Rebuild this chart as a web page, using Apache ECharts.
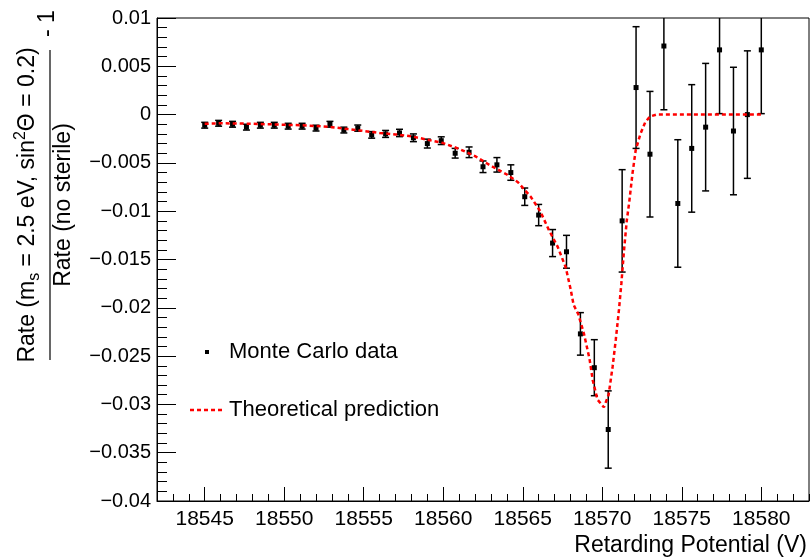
<!DOCTYPE html>
<html>
<head>
<meta charset="utf-8">
<script src="https://cdn.jsdelivr.net/npm/echarts@6/dist/echarts.min.js"></script>
<style>
  html, body { margin: 0; padding: 0; background: #fff; }
  #chart { width: 810px; height: 560px; }
</style>
</head>
<body>
<div id="chart"></div>
<script>
// Monte Carlo points (retarding potential in V)
var voltage = [18545, 18545.875, 18546.75, 18547.625, 18548.5, 18549.375, 18550.25, 18551.125,
  18552, 18552.875, 18553.75, 18554.625, 18555.5, 18556.375, 18557.25, 18558.125, 18559,
  18559.875, 18560.75, 18561.625, 18562.5, 18563.375, 18564.25, 18565.125, 18566, 18566.875,
  18567.75, 18568.625, 18569.5, 18570.375, 18571.25, 18572.125, 18573, 18573.875, 18574.75,
  18575.625, 18576.5, 18577.375, 18578.25, 18579.125, 18580];
var mcRatio = [-0.0011, -0.0009, -0.0010, -0.0013, -0.0011, -0.0011, -0.0012, -0.0012,
  -0.0014, -0.0010, -0.0016, -0.0014, -0.0021, -0.0020, -0.0019, -0.0024, -0.0030,
  -0.0027, -0.0040, -0.0039, -0.0054, -0.0052, -0.0060, -0.0085, -0.0104, -0.0133,
  -0.0142, -0.0227, -0.0262, -0.0326, -0.0110, 0.0028, -0.0041, 0.0071, -0.0092,
  -0.0035, -0.0013, 0.0067, -0.0017, 0.0000, 0.0067];
var mcError = [0.0003, 0.0003, 0.0003, 0.0003, 0.0003, 0.0003, 0.0003, 0.0003,
  0.0003, 0.0003, 0.0003, 0.00032, 0.00034, 0.00036, 0.00038, 0.0004, 0.00046,
  0.0004, 0.0005, 0.00055, 0.0006, 0.00075, 0.0008, 0.0009, 0.0011, 0.0014,
  0.0017, 0.0022, 0.0029, 0.0040, 0.0053, 0.0063, 0.0065, 0.0066, 0.0066,
  0.0066, 0.0066, 0.0066, 0.0066, 0.0066, 0.0066];

// theoretical prediction
var theoryV = [18545, 18546, 18547, 18548, 18549, 18550, 18551, 18552, 18553, 18554, 18555,
  18556, 18557, 18558, 18559, 18560, 18561, 18562, 18563, 18564, 18564.7, 18565.5, 18566.1,
  18566.6, 18567.2, 18567.7, 18568, 18568.2, 18568.5, 18568.85, 18569.2, 18569.4, 18569.7,
  18570.1, 18570.4, 18570.65, 18570.85, 18571.05, 18571.2, 18571.37, 18571.54, 18571.7,
  18571.9, 18572.1, 18572.4, 18572.7, 18573, 18573.4, 18580];
var theoryRatio = [-0.00095, -0.0009, -0.00092, -0.00095, -0.001, -0.00105, -0.0011, -0.00118,
  -0.0013, -0.0015, -0.0017, -0.0019, -0.00205, -0.00225, -0.0026, -0.00295, -0.00355,
  -0.0043, -0.0053, -0.0062, -0.007, -0.0085, -0.01, -0.0118, -0.0137, -0.0158, -0.018,
  -0.0197, -0.0207, -0.0227, -0.0253, -0.0275, -0.0295, -0.0303, -0.029, -0.0261, -0.0233,
  -0.0202, -0.0175, -0.014, -0.011, -0.009, -0.0061, -0.0037, -0.002, -0.0008, -0.0002,
  0, 0];

var majorX = [18545, 18550, 18555, 18560, 18565, 18570, 18575, 18580];
var minorX = [18542, 18543, 18544, 18546, 18547, 18548, 18549, 18551, 18552, 18553, 18554,
  18556, 18557, 18558, 18559, 18561, 18562, 18563, 18564, 18566, 18567, 18568, 18569,
  18571, 18572, 18573, 18574, 18576, 18577, 18578, 18579, 18581, 18582, 18583];

var FONT = '"Liberation Sans", Arial, Helvetica, sans-serif';

var mcData = voltage.map(function (v, i) { return [v, mcRatio[i], mcError[i]]; });
var theoryData = theoryV.map(function (v, i) { return [v, theoryRatio[i]]; });

function renderErr(params, api) {
  var x = api.value(0), y = api.value(1), e = api.value(2);
  var c = api.coord([x, y]);
  var hi = api.coord([x, y + e]);
  var lo = api.coord([x, y - e]);
  var cap = 3.5;
  var st = { stroke: '#000', lineWidth: 1.5 };
  return {
    type: 'group',
    children: [
      { type: 'line', shape: { x1: c[0], y1: hi[1], x2: c[0], y2: lo[1] }, style: st },
      { type: 'line', shape: { x1: c[0] - cap, y1: hi[1], x2: c[0] + cap, y2: hi[1] }, style: st },
      { type: 'line', shape: { x1: c[0] - cap, y1: lo[1], x2: c[0] + cap, y2: lo[1] }, style: st },
      { type: 'rect', shape: { x: c[0] - 2.5, y: c[1] - 2.5, width: 5, height: 5 }, style: { fill: '#000' } }
    ]
  };
}

// y axis title: fraction built from pieces, measured with a canvas
var meas = document.createElement('canvas').getContext('2d');
function tw(t, size) {
  meas.font = size + 'px ' + FONT;
  return meas.measureText(t).width;
}
var TF = 23;
function piece(t, x, base, size) {
  return {
    type: 'text', x: x, y: base + 0.21 * size,
    style: { text: t, font: size + 'px ' + FONT, fill: '#000', verticalAlign: 'bottom' }
  };
}
var numParts = [['Rate (m', TF, 0], ['s', 16, 5], [' = 2.5 eV, sin', TF, 0], ['2', 16, -9], ['\u0398 = 0.2)', TF, 0]];
var numW = 0;
numParts.forEach(function (p) { numW += tw(p[0], p[1]); });
var barLen = 310;
var titleChildren = [];
var px = (barLen - numW) / 2;
numParts.forEach(function (p) {
  titleChildren.push(piece(p[0], px, -16 + p[2], p[1]));
  px += tw(p[0], p[1]);
});
var den = 'Rate (no sterile)';
titleChildren.push(piece(den, (barLen - tw(den, TF)) / 2, 20, TF));
titleChildren.push({ type: 'line', shape: { x1: 0, y1: 0, x2: barLen, y2: 0 }, style: { stroke: '#000', lineWidth: 1.2 } });
titleChildren.push({
  type: 'text', x: barLen + 13, y: -2,
  style: { text: '- 1', font: TF + 'px ' + FONT, fill: '#000', verticalAlign: 'middle' }
});

var chart = echarts.init(document.getElementById('chart'));
chart.setOption({
  animation: false,
  backgroundColor: '#fff',
  grid: {
    left: 157, right: 1, top: 18, bottom: 59,
    show: true, borderColor: '#000', borderWidth: 1, backgroundColor: 'transparent'
  },
  xAxis: [{
    type: 'value', min: 18542, max: 18583,
    axisLine: { onZero: false, lineStyle: { color: '#000', width: 1 } },
    axisTick: { inside: true, length: 14, customValues: majorX, lineStyle: { color: '#000' } },
    axisLabel: {
      customValues: majorX, color: '#000', fontSize: 21, fontFamily: FONT, margin: 8,
      formatter: function (v) { return String(v); }
    },
    splitLine: { show: false }
  }, {
    type: 'value', min: 18542, max: 18583, position: 'bottom',
    axisLine: { show: false, onZero: false },
    axisTick: { inside: true, length: 7, customValues: minorX, lineStyle: { color: '#000' } },
    axisLabel: { show: false },
    splitLine: { show: false }
  }],
  yAxis: {
    type: 'value', min: -0.04, max: 0.01, interval: 0.005,
    axisLine: { show: true, onZero: false, lineStyle: { color: '#000', width: 1 } },
    axisTick: { inside: true, length: 19, lineStyle: { color: '#000' } },
    minorTick: { show: true, splitNumber: 5, length: 10, lineStyle: { color: '#000' } },
    axisLabel: {
      color: '#000', fontSize: 20, fontFamily: FONT, margin: 6,
      formatter: function (v) {
        var r = Math.round(v * 1000) / 1000;
        return r === 0 ? '0' : String(r).replace('-', '\u2212');
      }
    },
    splitLine: { show: false }
  },
  series: [{
    name: 'Monte Carlo data',
    type: 'custom',
    renderItem: renderErr,
    data: mcData,
    clip: true,
    z: 2
  }, {
    name: 'Theoretical prediction',
    type: 'line',
    data: theoryData,
    showSymbol: false,
    lineStyle: { color: '#f00', width: 2.5, type: [4, 3] },
    z: 3
  }],
  graphic: [
    { type: 'group', x: 50, y: 360, rotation: Math.PI / 2, children: titleChildren },
    {
      type: 'text', x: 807, y: 546,
      style: { text: 'Retarding Potential (V)', font: '23px ' + FONT, fill: '#000', align: 'right', verticalAlign: 'middle' }
    },
    { type: 'rect', shape: { x: 205, y: 350, width: 4, height: 4 }, style: { fill: '#000' } },
    {
      type: 'text', x: 229, y: 352,
      style: { text: 'Monte Carlo data', font: '22px ' + FONT, fill: '#000', verticalAlign: 'middle' }
    },
    {
      type: 'line', shape: { x1: 190, y1: 410, x2: 223, y2: 410 },
      style: { stroke: '#f00', lineWidth: 2.5, lineDash: [4, 3] }
    },
    {
      type: 'text', x: 229, y: 410,
      style: { text: 'Theoretical prediction', font: '22px ' + FONT, fill: '#000', verticalAlign: 'middle' }
    }
  ]
});
</script>
</body>
</html>
